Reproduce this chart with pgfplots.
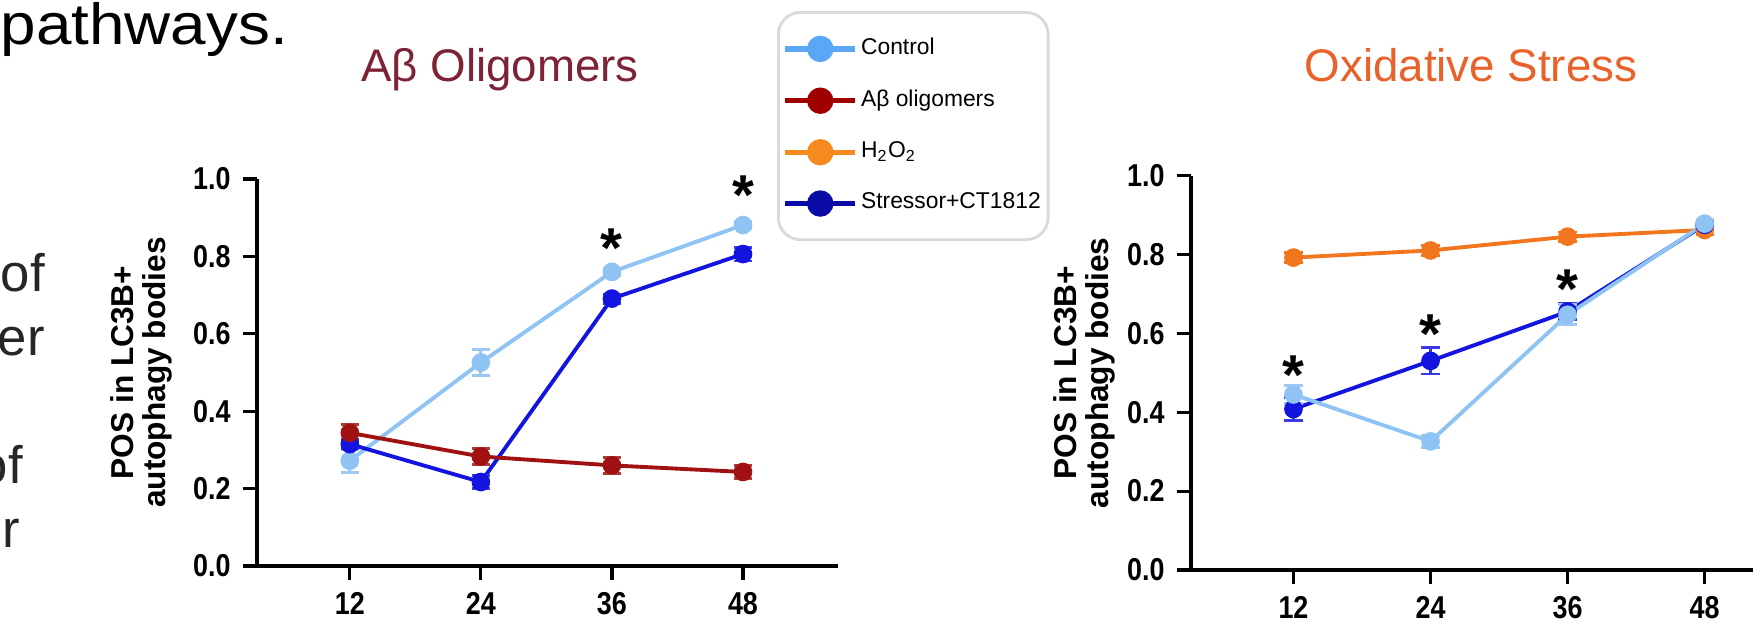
\documentclass[border=0pt]{standalone}
\usepackage{fontspec}
\setmainfont{Liberation Sans}
\newfontfamily\tickfont[FakeStretch=0.85]{Liberation Sans}
\newfontfamily\widefont[FakeStretch=1.1]{Liberation Sans}
\usepackage{pgfplots}
\pgfplotsset{compat=1.18}

\definecolor{ctrl}{HTML}{8EC3F4}
\definecolor{ctrlerr}{HTML}{9CC8F2}
\definecolor{abeta}{HTML}{A01212}
\definecolor{abetaerr}{HTML}{B03A3A}
\definecolor{hoo}{HTML}{F2761E}
\definecolor{stress}{HTML}{1414E0}
\definecolor{stresserr}{HTML}{3A3AE6}
\definecolor{legctrl}{HTML}{5AA8F5}
\definecolor{legab}{HTML}{A00000}
\definecolor{leghoo}{HTML}{F58A1F}
\definecolor{legst}{HTML}{0B0BA5}
\definecolor{titab}{HTML}{7D2335}
\definecolor{titox}{HTML}{E8622A}

\pgfplotsset{
  gp/.style={
    scale only axis,
    axis lines=left,
    axis line style={-, line width=0.9pt, black},
    tick align=outside,
    major tick length=1.4mm,
    tick style={line width=0.9pt, black},
    xtick={12,24,36,48},
    ytick={0,0.2,0.4,0.6,0.8,1},
    ymin=0, ymax=1,
    /pgf/number format/assume math mode=true,
    ticklabel style={font=\tickfont\bfseries\fontsize{9}{10}\selectfont},
    y tick label style={/pgf/number format/.cd, fixed, fixed zerofill, precision=1, /tikz/.cd},
    ylabel style={align=center, anchor=center, font=\bfseries\fontsize{9}{9.1}\selectfont},
    clip=false,
  },
  ser/.style={line width=1.1pt, mark=*, mark size=2.1pt, mark options={solid, fill=#1, draw=#1}, color=#1},
  eb/.style={error bars/.cd, y dir=both, y explicit,
    error bar style={#1, line width=0.8pt},
    error mark options={rotate=90, #1, line width=0.8pt, mark size=2.6pt}},
}

\begin{document}
\begin{tikzpicture}[x=1cm,y=1cm]
\useasboundingbox (0,0) rectangle (17.53,6.29);

\node[anchor=base west, inner sep=0, font=\widefont\fontsize{16.5}{20}\selectfont] at (0,5.84) {pathways.};
\node[anchor=base west, inner sep=0, text=black!85, font=\fontsize{15}{17}\selectfont] at (0.0,3.37) {of};
\node[anchor=base west, inner sep=0, text=black!85, font=\fontsize{15}{17}\selectfont] at (-0.03,2.74) {er};
\node[anchor=base west, inner sep=0, text=black!85, font=\fontsize{15}{17}\selectfont] at (-0.22,1.46) {of};
\node[anchor=base west, inner sep=0, text=black!85, font=\fontsize{15}{17}\selectfont] at (0.02,0.82) {r};

\node[anchor=base, font=\fontsize{13}{15}\selectfont, text=titab] at (5.00,5.47) {Aβ Oligomers};
\node[anchor=base, font=\fontsize{13}{15}\selectfont, text=titox] at (14.71,5.47) {Oxidative Stress};

% ---------- left axis ----------
\begin{axis}[gp, at={(2.57cm,0.63cm)}, anchor=south west,
  width=5.81cm, height=3.87cm, xmin=3.5, xmax=56.7,
  ylabel={POS in LC3B+\\autophagy bodies},
  ylabel style={at={(axis description cs:-0.199,0.5)}},
  legend style={at={(0.895,1.434)}, anchor=north west,
    draw=gray!30, line width=0.8pt, rounded corners=2.2mm,
    font=\fontsize{6.5}{7.5}\selectfont,
    inner xsep=1.2pt, inner ysep=2.2mm, row sep=2.3mm,
    nodes={inner xsep=0.9pt, inner ysep=1pt},
    cells={anchor=west}},
  legend image code/.code={\draw[mark repeat=2, mark phase=2, #1, rounded corners=0pt] plot coordinates {(0cm,0cm)(0.35cm,0cm)(0.7cm,0cm)};},
]
\addlegendimage{legctrl, line width=1.5pt, mark=*, mark size=3pt, mark options={fill=legctrl, draw=legctrl}}
\addlegendentry{Control}
\addlegendimage{legab, line width=1.5pt, mark=*, mark size=3pt, mark options={fill=legab, draw=legab}}
\addlegendentry{Aβ oligomers}
\addlegendimage{leghoo, line width=1.5pt, mark=*, mark size=3pt, mark options={fill=leghoo, draw=leghoo}}
\addlegendentry{H\textsubscript{2}O\textsubscript{2}}
\addlegendimage{legst, line width=1.5pt, mark=*, mark size=3pt, mark options={fill=legst, draw=legst}}
\addlegendentry{Stressor+CT1812}

\addplot[forget plot, ser=ctrl, eb=ctrlerr] coordinates {
 (12,0.272) +- (0,0.030) (24,0.526) +- (0,0.033) (36,0.760) +- (0,0.010) (48,0.881) +- (0,0.010)};
\addplot[forget plot, ser=stress, eb=stresserr] coordinates {
 (12,0.315) +- (0,0.012) (24,0.217) +- (0,0.017) (36,0.691) +- (0,0.012) (48,0.806) +- (0,0.018)};
\addplot[forget plot, ser=abeta, eb=abetaerr] coordinates {
 (12,0.344) +- (0,0.022) (24,0.283) +- (0,0.020) (36,0.260) +- (0,0.020) (48,0.243) +- (0,0.016)};

\node[font=\bfseries\fontsize{16}{16}\selectfont, yshift=-3.5pt] at (axis cs:36,0.852) {*};
\node[font=\bfseries\fontsize{16}{16}\selectfont, yshift=-3.5pt] at (axis cs:48,0.99) {*};
\end{axis}

% ---------- right axis ----------
\begin{axis}[gp, at={(11.91cm,0.59cm)}, anchor=south west,
  width=5.81cm, height=3.945cm, xmin=3.03, xmax=53.9,
  ylabel={POS in LC3B+\\autophagy bodies},
  ylabel style={at={(axis description cs:-0.183,0.5)}},
]
\addplot[ser=hoo, eb=hoo] coordinates {
 (12,0.792) +- (0,0.012) (24,0.810) +- (0,0.012) (36,0.845) +- (0,0.012) (48,0.862) +- (0,0.012)};
\addplot[ser=stress, eb=stresserr] coordinates {
 (12,0.408) +- (0,0.030) (24,0.530) +- (0,0.033) (36,0.655) +- (0,0.020) (48,0.875) +- (0,0.010)};
\addplot[ser=ctrl, eb=ctrlerr] coordinates {
 (12,0.445) +- (0,0.022) (24,0.326) +- (0,0.015) (36,0.647) +- (0,0.025) (48,0.878) +- (0,0.010)};

\node[font=\bfseries\fontsize{16}{16}\selectfont, yshift=-3.5pt] at (axis cs:12,0.524) {*};
\node[font=\bfseries\fontsize{16}{16}\selectfont, yshift=-3.5pt] at (axis cs:24,0.629) {*};
\node[font=\bfseries\fontsize{16}{16}\selectfont, yshift=-3.5pt] at (axis cs:36,0.742) {*};
\end{axis}
\end{tikzpicture}
\end{document}
